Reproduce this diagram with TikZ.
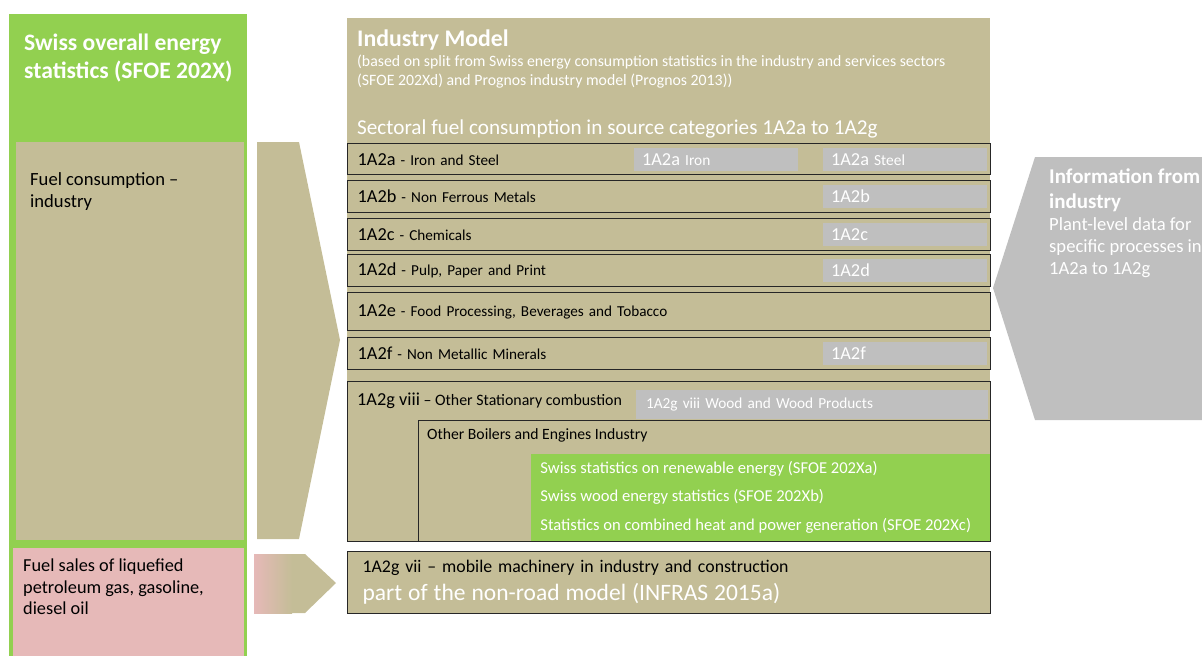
\documentclass[tikz,border=0pt]{standalone}
\usepackage{fontspec}
\setmainfont{Carlito}
\usetikzlibrary{positioning,calc}
\definecolor{ngreen}{HTML}{92D050}
\definecolor{ntan}{HTML}{C4BD97}
\definecolor{ngray}{HTML}{BFBFBF}
\definecolor{npink}{HTML}{E6B9B8}
\definecolor{nline}{HTML}{262626}
\newcommand{\fsz}[2]{\fontsize{#1}{#2}\selectfont}

\begin{document}
\begin{tikzpicture}[x=1pt, y=-1pt, inner sep=0pt,
   box/.style={anchor=north west, inner sep=0pt},
   lab/.style={anchor=west, inner sep=0pt, align=left},
   row/.style={box, draw=nline, line width=1.3pt, fill=ntan, text width=623pt, inner xsep=10pt,
               minimum height=#1, align=left, font=\fsz{15.2}{18}},
   cell/.style={fill=ngray, text=white, anchor=east, inner xsep=8pt, align=left,
                minimum height=23pt, text width=148pt, font=\fsz{15.4}{18}},
   code/.style={font=\fsz{18.3}{20}}]
  \useasboundingbox (0,0) rectangle (1202,656);

  % left column: overall energy statistics
  \node[box, fill=ngreen, minimum width=238pt, minimum height=642pt] (sfoe) at (9,14) {};
  \node[lab, text=white, font=\bfseries\fsz{23.6}{28}] (sfoet) at (24,58.5)
     {Swiss overall energy\\statistics (SFOE 202X)};
  \node[box, fill=ntan, minimum width=228pt, minimum height=398pt] (fuelind) at (16,142) {};
  \node[lab, font=\fsz{18.6}{22}] (fuelindt) at (30,192) {Fuel consumption --\\industry};
  \node[box, fill=npink, minimum width=231pt, minimum height=108pt] (fuelsales) at (13,548) {};
  \node[lab, font=\fsz{18.3}{21.5}] (fuelsalest) at (23,587)
     {Fuel sales of liquefied\\petroleum gas, gasoline,\\diesel oil};

  % big arrows
  \fill[ntan] (257,142) -- (299,142) -- (340,340) -- (299,539) -- (257,539) -- cycle;
  \fill[ntan] (254,554) -- (305,554) -- (336,583) -- (305,613) -- (254,613) -- cycle;
  \shade[left color=npink, right color=ntan] (254,554) rectangle (292,613);

  % industry model
  \node[box, fill=ntan, minimum width=643pt, minimum height=523pt] (indm) at (347,18) {};
  \node[lab, text=white, font=\bfseries\fsz{23.8}{26}] (indmt) at (357,40) {Industry Model};
  \node[lab, text=white, font=\fsz{15.8}{19}] (indms) at (357,71.5)
     {(based on split from Swiss energy consumption statistics in the industry and services sectors\\
      (SFOE 202Xd) and Prognos industry model (Prognos 2013))};
  \node[lab, text=white, font=\fsz{21.2}{24}] (sect) at (357,129)
     {Sectoral fuel consumption in source categories 1A2a to 1A2g};

  \node[row=31pt] (r2a) at (347,143) {{\fsz{18.3}{20}1A2a} - Iron and Steel};
  \node[row=32pt] (r2b) at (347,180) {{\fsz{18.3}{20}1A2b} - Non Ferrous Metals};
  \node[row=32pt] (r2c) at (347,218) {{\fsz{18.3}{20}1A2c} - Chemicals};
  \node[row=32pt] (r2d) at (347,254) {{\fsz{18.3}{20}1A2d} - Pulp, Paper and Print};
  \node[row=38pt] (r2e) at (347,292) {{\fsz{18.3}{20}1A2e} - Food Processing, Beverages and Tobacco};
  \node[row=32pt] (r2f) at (347,337) {{\fsz{18.3}{20}1A2f} - Non Metallic Minerals};

  \node[cell] (iron) at ([xshift=-193pt]r2a.east) {{\fsz{18.3}{20}1A2a} Iron};
  \node[cell] (steel) at ([xshift=-4pt]r2a.east) {{\fsz{18.3}{20}1A2a} Steel};
  \node[cell, code] (c2b) at ([xshift=-4pt]r2b.east) {1A2b};
  \node[cell, code] (c2c) at ([xshift=-4pt]r2c.east) {1A2c};
  \node[cell, code] (c2d) at ([xshift=-4pt]r2d.east) {1A2d};
  \node[cell, code] (c2f) at ([xshift=-4pt]r2f.east) {1A2f};

  % 1A2g viii
  \node[row=160pt] (r2g) at (347,381) {};
  \node[lab, font=\fsz{15.9}{18}] (r2gt) at ([shift={(10pt,20)}]r2g.north west)
     {{\fsz{18.3}{20}1A2g viii} -- Other Stationary combustion};
  \node[box, fill=ngray, text=white, anchor=north east, minimum width=352pt, minimum height=29pt,
        text width=332pt, inner xsep=10pt, align=left, font=\fsz{15.3}{18}] (wood)
     at ([shift={(-3pt,9)}]r2g.north east) {1A2g viii Wood and Wood Products};
  \node[box, draw=nline, line width=1.3pt, fill=ntan, anchor=south east, minimum width=572pt,
        minimum height=121pt] (boil) at (r2g.south east) {};
  \node[lab, font=\fsz{15.7}{18}] (boilt) at ([shift={(9pt,15.5)}]boil.north west)
     {Other Boilers and Engines Industry};
  \node[box, fill=ngreen, anchor=south east, minimum width=459pt, minimum height=87pt] (stats)
     at ([shift={(-0.65pt,-0.65)}]boil.south east) {};
  \draw[ngreen!55!white, line width=0.6pt] ([yshift=-29pt]stats.south west) -- ([yshift=-29pt]stats.south east);
  \node[lab, text=white, font=\fsz{16.6}{18}] (renew) at ([shift={(9pt,14.5)}]stats.north west)
     {Swiss statistics on renewable energy (SFOE 202Xa)};
  \node[lab, text=white, font=\fsz{16.6}{18}] (woodst) at ([shift={(9pt,42.5)}]stats.north west)
     {Swiss wood energy statistics (SFOE 202Xb)};
  \node[lab, text=white, font=\fsz{16.6}{18}] (chp) at ([shift={(9pt,71.5)}]stats.north west)
     {Statistics on combined heat and power generation (SFOE 202Xc)};

  % 1A2g vii
  \node[row=62pt, inner xsep=15pt, text width=613pt, font=\fsz{17.8}{28}] (r2gvii) at (347,551)
     {1A2g vii -- mobile machinery in industry and construction\\
      \color{white}\fsz{23.5}{28}part of the non-road model (INFRAS 2015a)};

  % information from industry
  \fill[ngray] (1035,157) -- (1202,157) -- (1202,420) -- (1035,420) -- (993,288) -- cycle;
  \node[lab, text=white, font=\bfseries\fsz{21}{25}] (info) at (1049,190.5)
     {Information from\\industry};
  \node[lab, text=white, font=\fsz{18.6}{22}] (infot) at (1049,248)
     {Plant-level data for\\specific processes in\\1A2a to 1A2g};
\end{tikzpicture}
\end{document}
